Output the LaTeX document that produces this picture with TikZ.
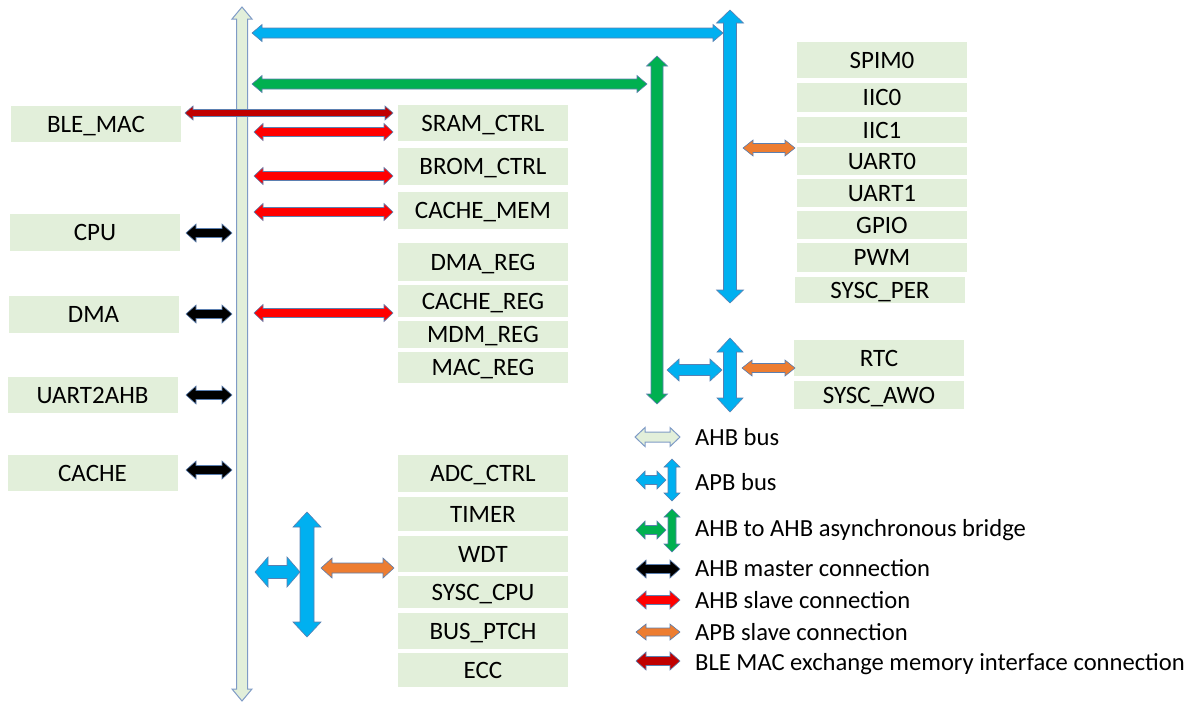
\documentclass[tikz,border=0pt]{standalone}
\usepackage{fontspec}
\setmainfont{Carlito}
\definecolor{boxg}{HTML}{E2EFDA}
\definecolor{busfill}{HTML}{E2EFDA}
\definecolor{busline}{HTML}{7F9BC6}
\definecolor{apb}{HTML}{00B0F0}
\definecolor{ahbb}{HTML}{00B050}
\definecolor{slv}{HTML}{FF0000}
\definecolor{ble}{HTML}{C00000}
\definecolor{apbs}{HTML}{ED7D31}
\definecolor{mst}{HTML}{000000}
\definecolor{edge}{HTML}{5B7FB0}
\newcommand{\harr}[7]{%
 \filldraw[#1] (#2,#4) -- ({#2+#7},{#4-#6}) -- ({#2+#7},{#4-#5}) -- ({#3-#7},{#4-#5}) -- ({#3-#7},{#4-#6}) -- (#3,#4) -- ({#3-#7},{#4+#6}) -- ({#3-#7},{#4+#5}) -- ({#2+#7},{#4+#5}) -- ({#2+#7},{#4+#6}) -- cycle;}
\newcommand{\varr}[7]{%
 \filldraw[#1] (#2,#3) -- ({#2-#6},{#3+#7}) -- ({#2-#5},{#3+#7}) -- ({#2-#5},{#4-#7}) -- ({#2-#6},{#4-#7}) -- (#2,#4) -- ({#2+#6},{#4-#7}) -- ({#2+#5},{#4-#7}) -- ({#2+#5},{#3+#7}) -- ({#2+#6},{#3+#7}) -- cycle;}
\tikzset{
 box/.style={fill=boxg, draw=none, inner sep=0pt, minimum width=170pt, font=\fontsize{25}{30}\selectfont, text height=16pt, text depth=0pt},
 leg/.style={anchor=west, inner sep=0pt, font=\fontsize{24.6}{30}\selectfont, text height=16pt, text depth=0pt},
 bus/.style={fill=busfill, draw=busline, line width=1pt, line join=miter},
 ba/.style={fill=#1, draw=edge, line width=0.6pt, line join=miter},
}
\begin{document}
\begin{tikzpicture}[x=1pt,y=-1pt]
\useasboundingbox (0,0) rectangle (1191,702);
% main AHB bus
\varr{bus}{242}{7}{701}{5.5}{10}{12}
% left masters
\node[box, minimum height=36pt] (blemac) at (96,124) {BLE\_MAC};
\node[box, minimum height=37pt] (cpu) at (95,232.5) {CPU};
\node[box, minimum height=37pt] (dma) at (93.5,314.5) {DMA};
\node[box, minimum height=36pt] (u2a) at (92.5,395) {UART2AHB};
\node[box, minimum height=36pt] (cache) at (92.5,473) {CACHE};
% AHB slaves upper
\node[box, minimum height=36pt] (sram) at (483,123) {SRAM\_CTRL};
\node[box, minimum height=37pt] (brom) at (483,166.5) {BROM\_CTRL};
\node[box, minimum height=37pt] (cmem) at (483,210.5) {CACHE\_MEM};
\node[box, minimum height=38pt] (dmareg) at (483,262) {DMA\_REG};
\node[box, minimum height=32pt] (creg) at (483,301) {CACHE\_REG};
\node[box, minimum height=27pt] (mdm) at (483,334.5) {MDM\_REG};
\node[box, minimum height=31pt] (mac) at (483,367.5) {MAC\_REG};
% lower APB slaves
\node[box, minimum height=37pt] (adc) at (483,473.5) {ADC\_CTRL};
\node[box, minimum height=34pt] (timer) at (483,514) {TIMER};
\node[box, minimum height=36pt] (wdt) at (483,554) {WDT};
\node[box, minimum height=32pt] (syscpu) at (483,592) {SYSC\_CPU};
\node[box, minimum height=36pt] (busp) at (483,631) {BUS\_PTCH};
\node[box, minimum height=34pt] (ecc) at (483,670) {ECC};
% right APB slaves
\node[box, minimum height=36pt] (spim) at (882,60) {SPIM0};
\node[box, minimum height=29pt] (iic0) at (882,97.5) {IIC0};
\node[box, minimum height=26pt] (iic1) at (882,130) {IIC1};
\node[box, minimum height=28pt] (uart0) at (882,161) {UART0};
\node[box, minimum height=28pt] (uart1) at (882,193) {UART1};
\node[box, minimum height=28pt] (gpio) at (882,225) {GPIO};
\node[box, minimum height=29pt] (pwm) at (882,257.5) {PWM};
\node[box, minimum height=26pt] (sysper) at (880,290) {SYSC\_PER};
\node[box, minimum height=36pt] (rtc) at (879,358) {RTC};
\node[box, minimum height=28pt] (awo) at (879,395) {SYSC\_AWO};
% top buses
\harr{ba=apb}{252}{723}{33}{5}{8.5}{10}
\varr{ba=apb}{730}{10}{303}{6.5}{13.5}{13}
\harr{ba=ahbb}{252}{647}{84}{5}{8.5}{10}
\varr{ba=ahbb}{657}{56}{404}{6}{10.5}{10}
\harr{ba=apbs}{743}{795}{148}{4.5}{8}{10}
% right lower APB
\harr{ba=apb}{667}{722}{370}{5.5}{11}{12}
\varr{ba=apb}{730}{338}{412}{6.5}{13}{14}
\harr{ba=apbs}{742}{795}{368}{4.5}{8}{10}
% AHB slave connections
\harr{ba=ble}{185}{393}{113}{3.5}{7}{8}
\harr{ba=slv}{254}{393}{132}{4.5}{8.5}{9}
\harr{ba=slv}{254}{393}{176}{4.5}{8.5}{9}
\harr{ba=slv}{254}{393}{212}{4.5}{8.5}{9}
\harr{ba=slv}{254}{393}{313}{4.5}{8.5}{9}
% master connections
\harr{ba=mst}{186}{232}{233}{4.5}{9}{10}
\harr{ba=mst}{186}{232}{314}{4.5}{9}{10}
\harr{ba=mst}{186}{232}{395}{4.5}{9}{10}
\harr{ba=mst}{186}{232}{470}{4.5}{9}{10}
% bottom-left APB
\harr{ba=apb}{255}{300}{572}{6.5}{15}{13}
\varr{ba=apb}{307}{512}{637}{7}{14}{15}
\harr{ba=apbs}{321}{394}{568}{5}{10}{11}
% legend
\harr{bus}{635}{680}{437}{5}{9.5}{10}
\node[leg] (l1) at (695,437) {AHB bus};
\harr{ba=apb}{636}{666}{480}{4.5}{9}{9}
\varr{ba=apb}{672}{459}{501}{4}{8}{8}
\node[leg] (l2) at (695,482) {APB bus};
\harr{ba=ahbb}{636}{666}{530}{4.5}{9}{9}
\varr{ba=ahbb}{672}{509}{552}{4}{8}{8}
\node[leg] (l3) at (695,528) {AHB to AHB asynchronous bridge};
\harr{ba=mst}{636}{680}{569}{4.5}{9}{10}
\node[leg] (l4) at (695,568) {AHB master connection};
\harr{ba=slv}{636}{680}{600}{4.5}{9}{10}
\node[leg] (l5) at (695,600) {AHB slave connection};
\harr{ba=apbs}{636}{680}{632}{4}{8}{10}
\node[leg] (l6) at (695,632) {APB slave connection};
\harr{ba=ble}{636}{680}{661}{4.5}{9}{10}
\node[leg] (l7) at (695,662) {BLE MAC exchange memory interface connection};
\end{tikzpicture}
\end{document}
